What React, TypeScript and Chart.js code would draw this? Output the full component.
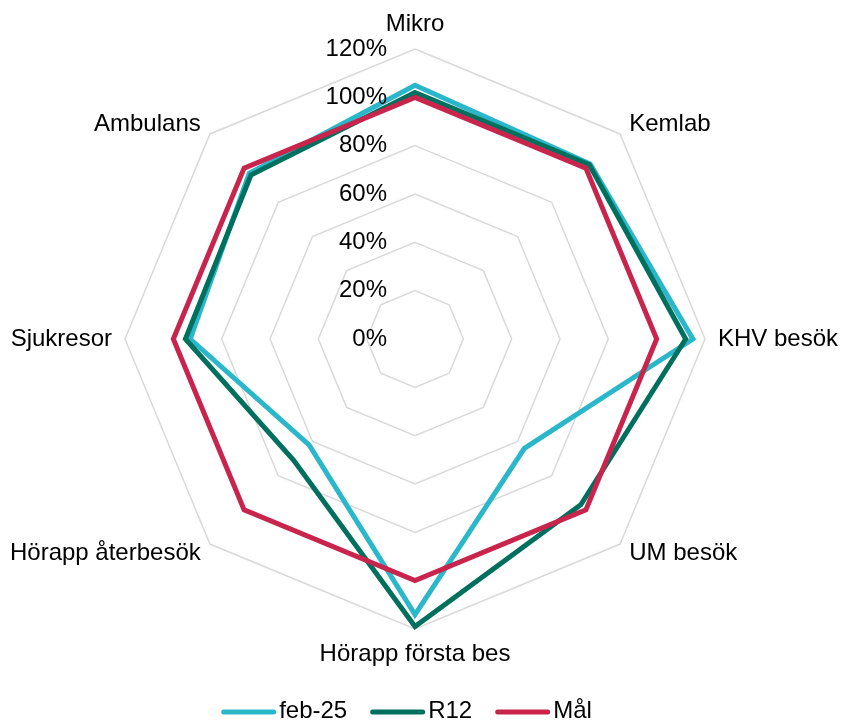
import React, { useEffect, useRef } from "react";
import { Chart, registerables } from "chart.js";

Chart.register(...registerables);

const categories = [
  "Mikro",
  "Kemlab",
  "KHV besök",
  "UM besök",
  "Hörapp första bes",
  "Hörapp återbesök",
  "Sjukresor",
  "Ambulans",
];
const feb25 = [105, 102.5, 115, 64, 114, 62, 93, 97];
const r12 = [102, 102, 112, 97, 119, 71, 95, 96];
const mal = [100, 100, 100, 100, 100, 100, 100, 100];
const seriesNames = ["feb-25", "R12", "Mål"];
const seriesColors = ["#2AB7CA", "#00705E", "#C8244C"];
const tickMin = 0;
const tickMax = 120;
const tickStep = 20;

const FONT = '"Liberation Sans", Arial, sans-serif';

const labelsPlugin = {
  id: "customLabels",
  afterDatasetsDraw(chart: any) {
    const ctx = chart.ctx;
    const scale = chart.scales.r;
    ctx.save();
    ctx.font = `24px ${FONT}`;
    ctx.fillStyle = "#000";
    // tick labels
    ctx.textAlign = "right";
    ctx.textBaseline = "middle";
    scale.ticks.forEach((t: any) => {
      const d = scale.getDistanceFromCenterForValue(t.value);
      ctx.fillText(`${t.value}%`, scale.xCenter - 28, scale.yCenter - d);
    });
    // point labels
    const labels = chart.data.labels as string[];
    labels.forEach((lab, i) => {
      const pos = scale.getPointPosition(i, scale.drawingArea + 13);
      let deg = (scale.getIndexAngle(i) * 180) / Math.PI;
      deg = ((deg % 360) + 360) % 360;
      if (Math.abs(deg) < 1 || Math.abs(deg - 360) < 1) {
        ctx.textAlign = "center";
        ctx.textBaseline = "bottom";
      } else if (Math.abs(deg - 180) < 1) {
        ctx.textAlign = "center";
        ctx.textBaseline = "top";
      } else if (deg < 180) {
        ctx.textAlign = "left";
        ctx.textBaseline = "middle";
      } else {
        ctx.textAlign = "right";
        ctx.textBaseline = "middle";
      }
      ctx.fillText(lab, pos.x, pos.y);
    });
    // legend
    const ds = chart.data.datasets;
    const lineLen = 55;
    const gapText = 3;
    const gapItem = 23;
    const widths = ds.map((d: any) => ctx.measureText(d.label).width);
    const total =
      widths.reduce((a: number, b: number) => a + b, 0) +
      ds.length * (lineLen + gapText) +
      (ds.length - 1) * gapItem;
    let x = 406.5 - total / 2;
    const y = 712;
    ctx.textAlign = "left";
    ctx.textBaseline = "middle";
    ds.forEach((d: any, i: number) => {
      ctx.beginPath();
      ctx.lineCap = "round";
      ctx.lineWidth = 5;
      ctx.strokeStyle = d.borderColor;
      ctx.moveTo(x + 2.5, y);
      ctx.lineTo(x + lineLen - 2.5, y);
      ctx.stroke();
      x += lineLen + gapText;
      ctx.fillStyle = "#000";
      ctx.fillText(d.label, x, y - 1);
      x += widths[i] + gapItem;
    });
    ctx.restore();
  },
};

export default function App() {
  const ref = useRef<HTMLCanvasElement>(null);
  useEffect(() => {
    document.body.style.margin = "0";
    const canvas = ref.current!;
    const series = [feb25, r12, mal];
    const chart = new Chart(canvas, {
      type: "radar",
      data: {
        labels: categories,
        datasets: series.map((s, i) => ({
          label: seriesNames[i],
          data: s,
          borderColor: seriesColors[i],
          backgroundColor: "transparent",
          borderWidth: 5,
          fill: false,
          pointRadius: 0,
          pointHoverRadius: 0,
          borderJoinStyle: "miter" as const,
          order: series.length - i,
        })),
      },
      options: {
        responsive: false,
        animation: false,
        layout: { padding: { top: 49, bottom: 93, left: 0, right: 11 } },
        plugins: {
          legend: { display: false },
          tooltip: { enabled: false },
        },
        scales: {
          r: {
            min: tickMin,
            max: tickMax,
            ticks: { display: false, stepSize: tickStep },
            grid: { color: "#d9d9d9", lineWidth: 1.5 },
            angleLines: { display: false },
            pointLabels: { display: false },
          },
        },
      },
      plugins: [labelsPlugin],
    });
    return () => chart.destroy();
  }, []);
  return (
    <div style={{ width: 841, height: 722 }}>
      <canvas ref={ref} width={841} height={722} style={{ display: "block" }} />
    </div>
  );
}
